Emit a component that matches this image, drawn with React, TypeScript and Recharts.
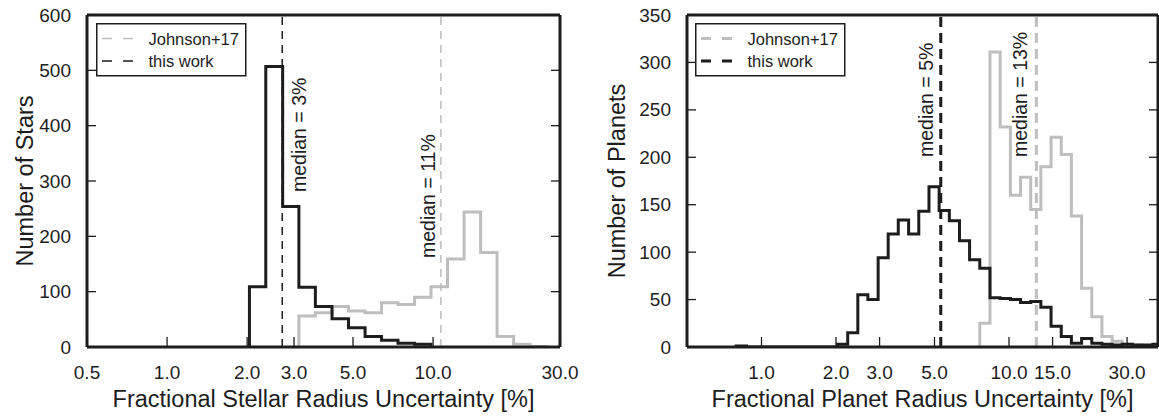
import { LineChart, Line, XAxis, YAxis, ReferenceLine } from 'recharts'

const FONT = '"Liberation Sans", Arial, Helvetica, sans-serif'
const INK = '#1d1d1d'
const GREY = '#bebebe'

// left panel: stellar radius uncertainty (%), log-spaced bins
const starEdges = [2.04, 2.35, 2.72, 3.13, 3.61, 4.17, 4.81, 5.55, 6.4, 7.38, 8.52, 9.82, 11.33, 13.08, 15.09, 17.4, 20.08, 23.16, 26.72]
const starThisWork = [109, 507, 254, 108, 73, 51, 35, 19, 12, 7, 5, 0, 0, 0, 0, 0, 0, 0]
const starJohnson = [0, 0, 0, 56, 62, 73, 65, 62, 80, 77, 90, 109, 159, 244, 171, 19, 5, 1]
const starTicksX = [0.5, 1, 2, 3, 5, 10, 30]
const starTicksY = [0, 100, 200, 300, 400, 500, 600]
const starMedianThisWork = 2.71
const starMedianJohnson = 10.7

// right panel: planet radius uncertainty (%)
const planetEdges = [0.79, 0.87, 2.03, 2.23, 2.45, 2.69, 2.96, 3.25, 3.57, 3.93, 4.32, 4.75, 5.22, 5.74, 6.31, 6.93, 7.62, 8.38, 9.21, 10.13, 11.13, 12.24, 13.45, 14.79, 16.26, 17.87, 19.65, 21.6, 23.74, 26.1, 28.69, 31.54, 34.67, 38.11, 41.9]
const planetThisWork = [1, 0, 3, 15, 55, 50, 94, 119, 134, 119, 143, 169, 144, 133, 112, 92, 83, 52, 51, 50, 47, 48, 42, 22, 11, 4, 9, 4, 3, 2, 3, 2, 2, 3]
const planetJohnson = [0, 0, 0, 0, 0, 0, 0, 0, 0, 0, 0, 0, 0, 0, 0, 0, 25, 311, 232, 160, 179, 145, 190, 221, 203, 138, 62, 32, 11, 6, 3, 2, 1, 0]
const planetTicksX = [1, 2, 3, 5, 10, 15, 30]
const planetTicksY = [0, 50, 100, 150, 200, 250, 300, 350]
const planetMedianThisWork = 5.3
const planetMedianJohnson = 12.9

const PT = 15
const PB = 347
const H = 418

// histogram outline (matplotlib histtype='step'), trimmed to the non-empty range
const toSteps = (edges: number[], counts: number[]) => {
  const first = counts.findIndex(c => c > 0)
  let last = counts.length - 1
  while (last > first && counts[last] === 0) last--
  const pts = [{ x: edges[first], y: 0 }]
  for (let i = first; i <= last; i++) pts.push({ x: edges[i], y: counts[i] })
  pts.push({ x: edges[last + 1], y: 0 })
  return pts
}

const BottomTick = ({ x, payload }: any) => (
  <g>
    <line x1={x} x2={x} y1={PB} y2={PB - 10} stroke={INK} strokeWidth={1.3} />
    <text x={x} y={PB + 32} textAnchor="middle" fontSize={19} fontFamily={FONT} fill={INK}>
      {Number(payload.value).toFixed(1)}
    </text>
  </g>
)

const TopTick = ({ x }: any) => <line x1={x} x2={x} y1={PT} y2={PT + 9} stroke={INK} strokeWidth={1.3} />

const LeftTick = ({ y, payload, left }: any) => (
  <g>
    <line x1={left} x2={left + 9} y1={y} y2={y} stroke={INK} strokeWidth={1.3} />
    <text x={left - 16} y={y} textAnchor="end" dominantBaseline="central" fontSize={19} fontFamily={FONT} fill={INK}>
      {payload.value}
    </text>
  </g>
)

const RightTick = ({ y, right }: any) => <line x1={right} x2={right - 9} y1={y} y2={y} stroke={INK} strokeWidth={1.3} />

const XTitle = ({ viewBox, text }: any) => (
  <text x={viewBox.x + viewBox.width / 2} y={PB + 60} textAnchor="middle" fontSize={23.5} fontFamily={FONT} fill={INK}>
    {text}
  </text>
)

const YTitle = ({ text, cx }: any) => (
  <text x={cx} y={(PT + PB) / 2} transform={`rotate(-90 ${cx} ${(PT + PB) / 2})`} textAnchor="middle" dominantBaseline="central" fontSize={23.5} fontFamily={FONT} fill={INK}>
    {text}
  </text>
)

const MedianLabel = ({ viewBox, text, dx, bottom }: any) => {
  const cx = viewBox.x + dx
  return (
    <text x={cx} y={bottom} transform={`rotate(-90 ${cx} ${bottom})`} textAnchor="start" dominantBaseline="central" fontSize={19.5} fontFamily={FONT} fill={INK}>
      {text}
    </text>
  )
}

const LegendBox = ({ left, lineWidth, dash }: { left: number; lineWidth: number; dash: string }) => (
  <svg width={160} height={60} style={{ position: 'absolute', left, top: 23 }}>
    <rect x={0.75} y={0.75} width={149} height={52} fill="#fff" stroke={INK} strokeWidth={1.5} />
    <line x1={6} x2={37} y1={15.5} y2={15.5} stroke={GREY} strokeWidth={lineWidth} strokeDasharray={dash} />
    <text x={52.5} y={15.5} dominantBaseline="central" fontSize={16.5} fontFamily={FONT} fill={INK}>Johnson+17</text>
    <line x1={6} x2={37} y1={38} y2={38} stroke={INK} strokeWidth={lineWidth} strokeDasharray={dash} />
    <text x={52.5} y={38} dominantBaseline="central" fontSize={16.5} fontFamily={FONT} fill={INK}>this work</text>
  </svg>
)

interface PanelProps {
  width: number
  left: number
  right: number
  xDomain: [number, number]
  yDomain: [number, number]
  xTicks: number[]
  yTicks: number[]
  ours: { x: number; y: number }[]
  johnson: { x: number; y: number }[]
  medOurs: number
  medJohnson: number
  medWidth: number
  medDash: string
  oursLabel: { text: string; dx: number; bottom: number }
  johnsonLabel: { text: string; dx: number; bottom: number }
  xTitle: string
  yTitle: string
  yTitleX: number
}

function Panel(p: PanelProps) {
  const plotRight = p.width - p.right
  const frame = { stroke: INK, strokeWidth: 3 }
  // axes get 1px of room each (recharts skips zero-sized axes); margins place the frame exactly
  return (
    <LineChart width={p.width} height={H} margin={{ top: PT - 1, bottom: H - PB - 1, left: p.left - 1, right: p.right - 1 }}>
      <XAxis xAxisId="b" type="number" dataKey="x" scale="log" domain={p.xDomain} ticks={p.xTicks} interval={0}
        allowDataOverflow height={1} axisLine={frame} tickLine={false}
        tick={<BottomTick />} label={<XTitle text={p.xTitle} />} />
      <XAxis xAxisId="t" orientation="top" type="number" scale="log" domain={p.xDomain} ticks={p.xTicks} interval={0}
        allowDataOverflow height={1} axisLine={frame} tickLine={false} tick={<TopTick />} />
      <YAxis yAxisId="l" type="number" domain={p.yDomain} ticks={p.yTicks} interval={0} allowDataOverflow width={1}
        axisLine={frame} tickLine={false} tick={<LeftTick left={p.left} />} />
      <YAxis yAxisId="r" orientation="right" type="number" domain={p.yDomain} ticks={p.yTicks} interval={0} allowDataOverflow width={1}
        axisLine={frame} tickLine={false} tick={<RightTick right={plotRight} />} />
      <Line xAxisId="b" yAxisId="l" data={p.johnson} dataKey="y" type="stepAfter" stroke={GREY} strokeWidth={3}
        dot={false} activeDot={false} isAnimationActive={false} strokeLinejoin="miter" />
      <Line xAxisId="b" yAxisId="l" data={p.ours} dataKey="y" type="stepAfter" stroke={INK} strokeWidth={3}
        dot={false} activeDot={false} isAnimationActive={false} strokeLinejoin="miter" />
      <ReferenceLine xAxisId="b" yAxisId="l" x={p.medOurs} stroke={INK} strokeWidth={p.medWidth} strokeDasharray={p.medDash}
        label={<MedianLabel {...p.oursLabel} />} />
      <ReferenceLine xAxisId="b" yAxisId="l" x={p.medJohnson} stroke={GREY} strokeWidth={p.medWidth} strokeDasharray={p.medDash}
        label={<MedianLabel {...p.johnsonLabel} />} />
      <YTitle text={p.yTitle} cx={p.yTitleX} />
    </LineChart>
  )
}

export default function App() {
  return (
    <div style={{ position: 'fixed', left: 0, top: 0, width: 1159, height: H, background: '#fff', overflow: 'hidden' }}>
      <div style={{ position: 'absolute', left: 0, top: 0 }}>
        <Panel width={580} left={87} right={20} xDomain={[0.5, 30]} yDomain={[0, 600]} xTicks={starTicksX} yTicks={starTicksY}
          ours={toSteps(starEdges, starThisWork)} johnson={toSteps(starEdges, starJohnson)}
          medOurs={starMedianThisWork} medJohnson={starMedianJohnson} medWidth={1.5} medDash="8 6"
          oursLabel={{ text: 'median = 3%', dx: 17, bottom: 192 }}
          johnsonLabel={{ text: 'median = 11%', dx: -13, bottom: 258 }}
          xTitle="Fractional Stellar Radius Uncertainty [%]" yTitle="Number of Stars" yTitleX={25} />
        <LegendBox left={96} lineWidth={1.5} dash="10 11" />
      </div>
      <div style={{ position: 'absolute', left: 580, top: 0 }}>
        <Panel width={579} left={107} right={1} xDomain={[0.5, 40]} yDomain={[0, 350]} xTicks={planetTicksX} yTicks={planetTicksY}
          ours={toSteps(planetEdges, planetThisWork)} johnson={toSteps(planetEdges, planetJohnson)}
          medOurs={planetMedianThisWork} medJohnson={planetMedianJohnson} medWidth={3} medDash="10 6"
          oursLabel={{ text: 'median = 5%', dx: -15, bottom: 157 }}
          johnsonLabel={{ text: 'median = 13%', dx: -16, bottom: 157 }}
          xTitle="Fractional Planet Radius Uncertainty [%]" yTitle="Number of Planets" yTitleX={37} />
        <LegendBox left={115} lineWidth={3} dash="10 11" />
      </div>
    </div>
  )
}
